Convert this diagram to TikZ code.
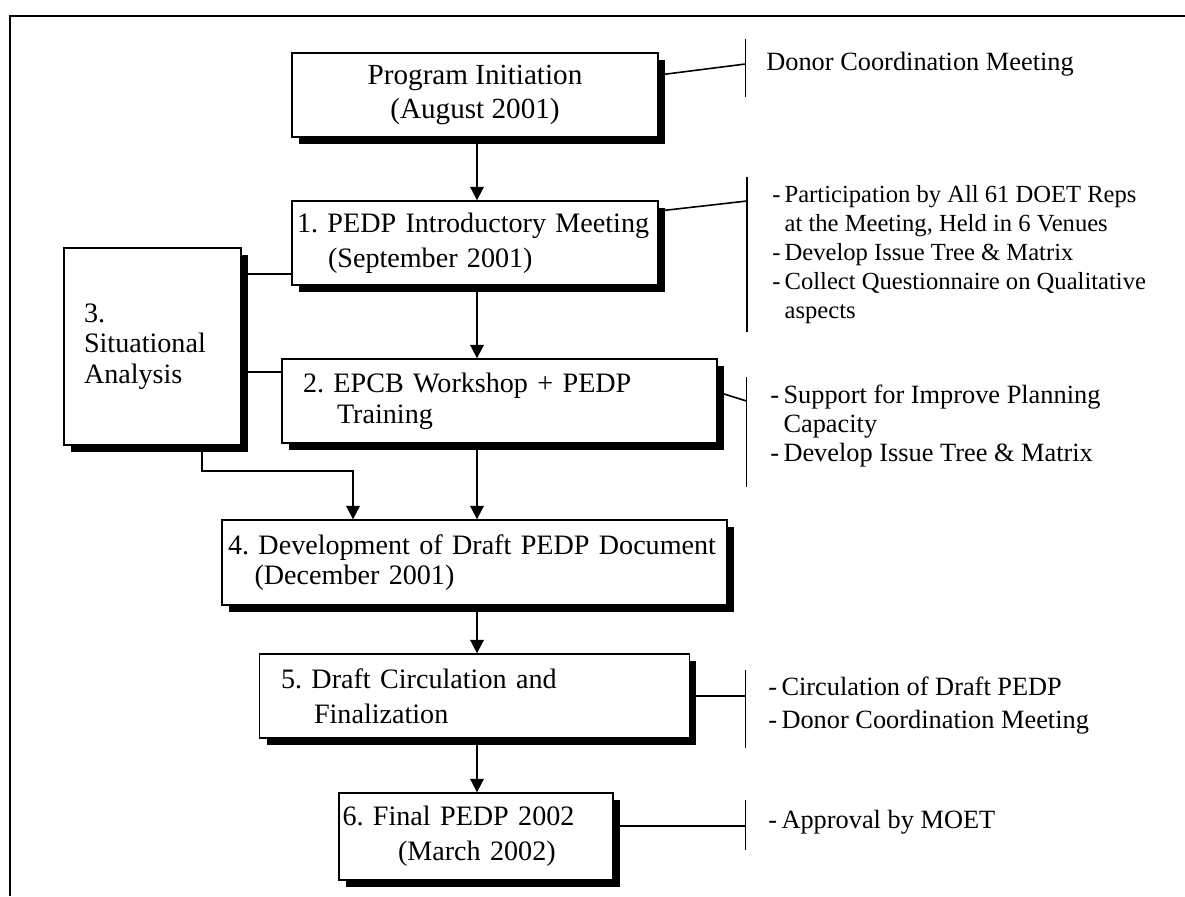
\documentclass[tikz,border=0pt]{standalone}
\usepackage{fontspec}
\setmainfont{Liberation Serif}
\usetikzlibrary{arrows.meta,positioning,calc,shadows}
\frenchspacing

\begin{document}
\begin{tikzpicture}[x=0.02cm, y=-0.02cm,
  stage/.style={draw, fill=white, line width=0.8pt, align=left, inner ysep=0pt,
                drop shadow={shadow xshift=0.14cm, shadow yshift=-0.14cm,
                             fill=black, opacity=1},
                font=\fontsize{16}{19.8}\selectfont},
  tight/.style={font=\fontsize{16}{17.4}\selectfont},
  note/.style={anchor=west, align=left, inner sep=0pt,
               font=\fontsize{15}{16.5}\selectfont},
  arr/.style={-{Triangle[length=0.27cm, width=0.27cm]}, line width=1.1pt},
  link/.style={line width=0.9pt},
  bar/.style={line width=0.9pt}
]
\useasboundingbox (0,0) rectangle (1185,896);
% frame
\draw[line width=1pt] (1185,16) -- (10,16) -- (10,896);

% main stages
\node[stage, align=center, font=\fontsize{16.6}{19.8}\selectfont,
      minimum width=7.32cm, minimum height=1.68cm] (init)
  at (475,95) {Program Initiation\\(August 2001)};
\node[stage, inner xsep=0.1cm, text width=7.12cm, minimum height=1.68cm] (intro)
  at (475,243) {1. PEDP Introductory Meeting\\\hspace*{0.62cm}(September 2001)};
\node[stage, tight, inner xsep=0.42cm, text width=7.86cm, minimum height=1.68cm] (epcb)
  at (499.5,401) {2. EPCB Workshop + PEDP\\\hspace*{0.68cm}Training};
\node[stage, tight, inner xsep=0.4cm, text width=2.74cm, minimum height=3.94cm] (sit)
  at (152.5,346.5) {3.\\Situational\\Analysis};
\node[stage, tight, inner xsep=0.12cm, text width=9.86cm, minimum height=1.7cm] (draft)
  at (474.5,562.5) {4. Development of Draft PEDP Document\\\hspace*{0.53cm}(December 2001)};
\node[stage, inner xsep=0.43cm, text width=7.74cm, minimum height=1.68cm] (circ)
  at (474.5,696) {5. Draft Circulation and\\\hspace*{0.66cm}Finalization};
\node[stage, inner xsep=0.07cm, text width=5.34cm, minimum height=1.74cm] (final)
  at (476,836.5) {6. Final PEDP 2002\\\hspace*{1.11cm}(March 2002)};

% main flow
\coordinate (spine) at (477,0);
\draw[arr] (init.south -| spine) -- (intro.north -| spine);
\draw[arr] (intro.south -| spine) -- (epcb.north -| spine);
\draw[arr] (epcb.south -| spine) -- (draft.north -| spine);
\draw[arr] (draft.south -| spine) -- (circ.north -| spine);
\draw[arr] (circ.south -| spine) -- (final.north -| spine);

% situational analysis links
\coordinate (s1) at (0,274);
\coordinate (s2) at (0,372);
\coordinate (s3) at (202,471);
\coordinate (s4) at (353,0);
\draw[link] (sit.east |- s1) -- (intro.west |- s1);
\draw[link] (sit.east |- s2) -- (epcb.west |- s2);
\draw[arr] (sit.south -| s3) -- (s3) -| (draft.north -| s4);

% side notes
\coordinate (b0t) at (745.5,39);  \coordinate (b0b) at (745.5,97);  \coordinate (j0) at (745.5,64);
\coordinate (b1t) at (747,177);   \coordinate (b1b) at (747,332);   \coordinate (j1) at (747,201);
\coordinate (b2t) at (746.5,377); \coordinate (b2b) at (746.5,487); \coordinate (j2) at (746.5,401);
\coordinate (b3t) at (745.5,670); \coordinate (b3b) at (745.5,748); \coordinate (j3) at (745.5,694);
\coordinate (b4t) at (745.5,800); \coordinate (b4b) at (745.5,850); \coordinate (j4) at (745.5,826);
\draw[bar] (b0t) -- (b0b);
\draw[bar] (b1t) -- (b1b);
\draw[bar] (b2t) -- (b2b);
\draw[bar] (b3t) -- (b3b);
\draw[bar] (b4t) -- (b4b);
\draw[link] ([yshift=0.4cm]init.east) -- (j0);
\draw[link] ([yshift=0.64cm]intro.east) -- (j1);
\draw[link] ([yshift=0.18cm]epcb.east) -- (j2);
\draw[link] (circ.east) -- (circ.east -| j3);
\draw[link] ([yshift=0.21cm]final.east) -- (j4);

\node[note] (n0) at (766,64) {Donor Coordination Meeting};
\node[note, font=\fontsize{14}{16.5}\selectfont] (n1) at (772,255)
  {-\,Participation by All 61 DOET Reps\\
   \phantom{-\,}at the Meeting, Held in 6 Venues\\
   -\,Develop Issue Tree \& Matrix\\
   -\,Collect Questionnaire on Qualitative\\
   \phantom{-\,}aspects};
\node[note] (n2) at (770,426)
  {-\,Support for Improve Planning\\
   \phantom{-\,}Capacity\\
   -\,Develop Issue Tree \& Matrix};
\node[note, font=\fontsize{15}{18.8}\selectfont] (n3) at (768,706)
  {-\,Circulation of Draft PEDP\\
   -\,Donor Coordination Meeting};
\node[note] (n4) at (768,822) {-\,Approval by MOET};
\end{tikzpicture}
\end{document}
